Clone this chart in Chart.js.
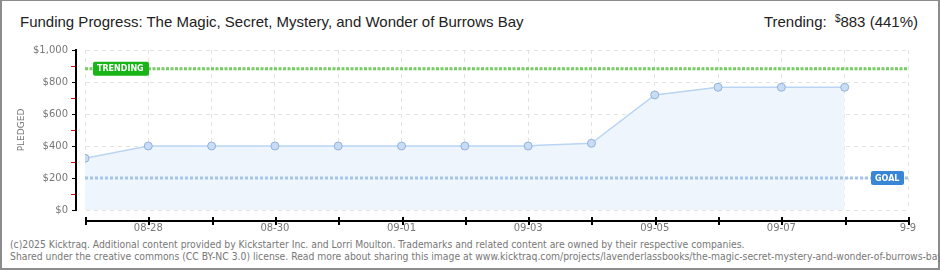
<!DOCTYPE html>
<html>
<head>
<meta charset="utf-8">
<script src="https://cdn.jsdelivr.net/npm/chart.js@4.4.1/dist/chart.umd.min.js"></script>
<style>
  body { margin: 0; background: #fff; }
  #wrap { position: relative; width: 940px; height: 270px; overflow: hidden; background: #fff; }
  #frame { position: absolute; left: 0; top: 0; width: 940px; height: 270px; box-sizing: border-box;
           border: 2px solid #8c8c8c; border-top-width: 1px; }
  #title { position: absolute; left: 20px; top: 13px; font: 15px "Liberation Sans", sans-serif; color: #222; white-space: nowrap; }
  #trend { position: absolute; right: 22px; top: 13px; font: 15px "Liberation Sans", sans-serif; color: #222; white-space: nowrap; }
  #trend sup { font-size: 10px; vertical-align: 5px; margin-left: 4px; }
  .foot { position: absolute; left: 10px; font: 10.3px "DejaVu Sans Condensed", sans-serif; color: #777; white-space: nowrap; }
  canvas { position: absolute; left: 0; top: 0; }
</style>
</head>
<body>
<div id="wrap">
  <div id="frame"></div>
  <div id="title">Funding Progress: The Magic, Secret, Mystery, and Wonder of Burrows Bay</div>
  <div id="trend">Trending: <sup>$</sup>883 (441%)</div>
  <div class="foot" style="top:238px">(c)2025 Kicktraq. Additional content provided by Kickstarter Inc. and Lorri Moulton. Trademarks and related content are owned by their respective companies.</div>
  <div class="foot" style="top:250px">Shared under the creative commons (CC BY-NC 3.0) license. Read more about sharing this image at www.kicktraq.com/projects/lavenderlassbooks/the-magic-secret-mystery-and-wonder-of-burrows-bay/</div>
  <canvas id="chart" width="940" height="270"></canvas>
</div>
<script>
// ---- Data ----
const tickLabels  = ['', '08-28', '', '08-30', '', '09-01', '', '09-03', '', '09-05', '', '09-07', '', '9-9'];
const pledgedDays = [0, 1, 2, 3, 4, 5, 6, 7, 7.17, 7.5, 8, 9, 10, 11, 12];
const pledged     = [323, 400, 400, 400, 400, 400, 400, 400, 405, 410, 417, 719, 767, 767, 767];
const yTicks      = [0, 200, 400, 600, 800, 1000];
const goal        = 200;
const trending    = 883;

const tickFont = { family: 'DejaVu Sans', size: 10 };

// ---- Axis lines off the plot edge, red minor ticks, goal / trending tags ----
const decor = {
  id: 'decor',
  afterDraw(chart) {
    const { ctx, chartArea, scales: { x, y } } = chart;
    const ax = chartArea.left - 9, ay = chartArea.bottom + 10;
    const yTop = y.getPixelForValue(1000), yBot = y.getPixelForValue(0);
    ctx.save();
    ctx.fillStyle = '#e00';
    for (let v = 100; v < 1000; v += 200) {
      ctx.fillRect(ax - 5, Math.round(y.getPixelForValue(v)), 4, 1);
    }
    ctx.fillStyle = '#000';
    ctx.fillRect(ax - 1, yTop, 2, yBot - yTop + 1);
    const x0 = x.getPixelForValue(0), x1 = x.getPixelForValue(13);
    ctx.fillRect(x0, ay, x1 - x0 + 1, 2);
    for (let d = 0; d <= 13; d++) {
      ctx.fillRect(Math.round(x.getPixelForValue(d)), ay - 3, 2, 8);
    }

    function tag(text, left, value, w, color) {
      const cy = y.getPixelForValue(value);
      ctx.fillStyle = color;
      ctx.beginPath(); ctx.roundRect(left, cy - 7, w, 14, 2); ctx.fill();
      ctx.fillStyle = '#fff';
      ctx.font = 'bold 8px "DejaVu Sans"';
      ctx.textBaseline = 'middle';
      ctx.fillText(text, left + 4, cy + 0.5);
    }
    tag('TRENDING', chartArea.left + 8, trending, 56, '#18b418');
    tag('GOAL', chartArea.right - 37, goal, 33, '#3a86d6');
    ctx.restore();
  }
};

new Chart(document.getElementById('chart'), {
  type: 'line',
  data: {
    datasets: [
      {
        yAxisID: 'y',
        data: pledgedDays.map((d, i) => ({ x: d, y: pledged[i] })),
        borderColor: '#b9d5f3', borderWidth: 1.5,
        backgroundColor: '#eef5fd', fill: 'origin',
        pointRadius: c => Number.isInteger(c.raw.x) ? 4 : 0,
        pointBackgroundColor: '#c7ddf7', pointBorderColor: '#93b2d8', pointBorderWidth: 1,
        order: 2
      },
      {
        yAxisID: 'y',
        data: [{ x: 0, y: trending }, { x: 13, y: trending }],
        borderColor: '#74cc62', borderWidth: 3, borderDash: [3, 1.5],
        pointRadius: 0, fill: false, order: 1
      },
      {
        yAxisID: 'y',
        data: [{ x: 0, y: goal }, { x: 13, y: goal }],
        borderColor: '#a6c3e8', borderWidth: 3, borderDash: [3, 2],
        pointRadius: 0, fill: false, order: 1
      }
    ]
  },
  options: {
    responsive: false,
    animation: false,
    layout: { padding: { left: 12, top: 50, right: 32, bottom: 30 } },
    plugins: { legend: { display: false }, tooltip: { enabled: false } },
    scales: {
      x: {
        type: 'linear', min: 0, max: 13,
        afterFit: s => { s.height = 30; },
        ticks: { stepSize: 1, autoSkip: false, maxRotation: 0, padding: 12, font: tickFont, color: '#777',
                 callback: v => tickLabels[v] },
        grid: { color: '#e2e2e2', drawTicks: false },
        border: { display: false, dash: [4, 4] }
      },
      y: {
        position: 'left', weight: 1,
        min: 0, max: 1000,
        afterFit: s => { s.width = 64; },
        afterBuildTicks: s => { s.ticks = yTicks.map(v => ({ value: v })); },
        ticks: { padding: 4, font: tickFont, color: '#777',
                 callback: v => '$' + v.toLocaleString('en-US') },
        grid: { color: '#e2e2e2', drawTicks: true, tickLength: 4, tickColor: '#000' },
        border: { display: true, color: '#000', width: 2, dash: [4, 4] },
        title: { display: true, text: 'PLEDGED', color: '#777', font: { family: 'DejaVu Sans', size: 9 } }
      },
      // empty strip that keeps the y axis line 9px off the plot
      ySpace: {
        position: 'left', weight: 0,
        min: 0, max: 1000,
        afterFit: s => { s.width = 9; },
        ticks: { display: false },
        grid: { display: false, drawTicks: false },
        border: { display: false }
      }
    }
  },
  plugins: [decor]
});
</script>
</body>
</html>
